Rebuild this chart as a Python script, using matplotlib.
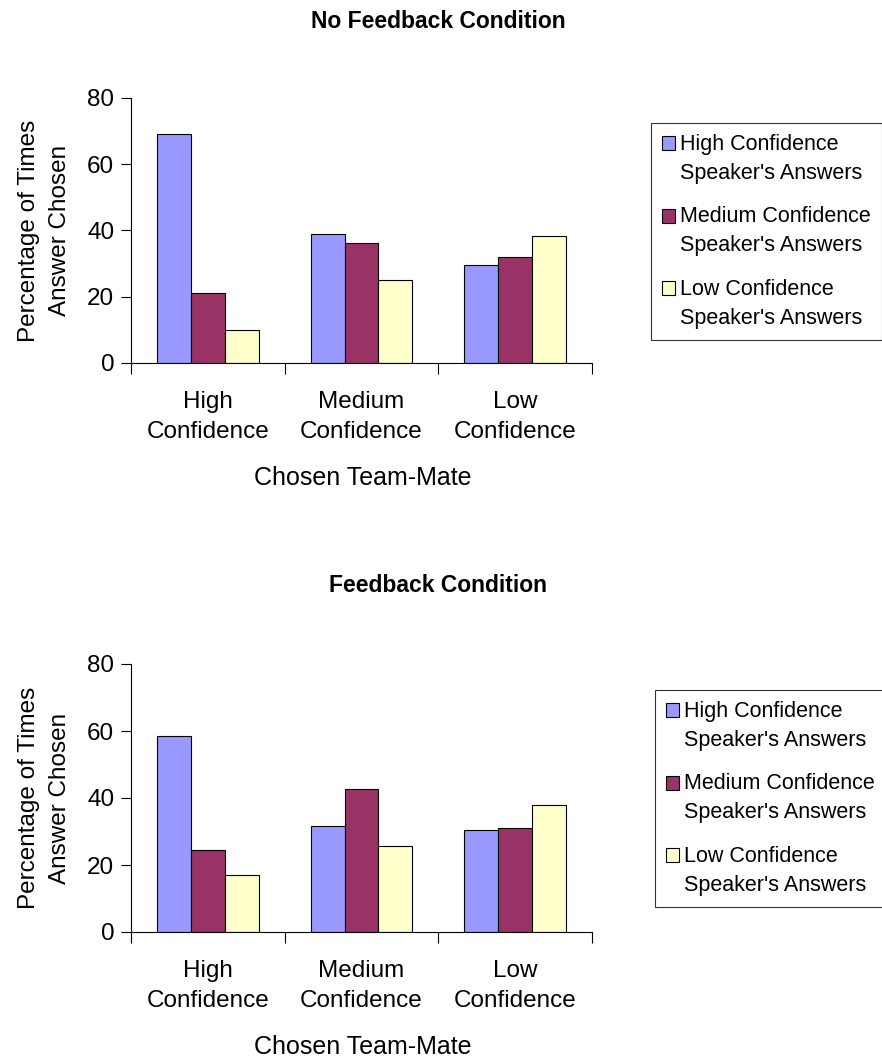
import matplotlib.pyplot as plt
from matplotlib.ticker import FixedLocator, NullFormatter
from matplotlib.legend_handler import HandlerPatch
from matplotlib.patches import Rectangle

plt.rcParams['font.family'] = ['Liberation Sans', 'DejaVu Sans']

categories = ["High\nConfidence", "Medium\nConfidence", "Low\nConfidence"]
series = ["High Confidence\nSpeaker's Answers",
          "Medium Confidence\nSpeaker's Answers",
          "Low Confidence\nSpeaker's Answers"]
colors = ["#9999FF", "#993366", "#FFFFCC"]

# values per chosen team-mate, one list per speaker series
no_feedback = [
    [69.0, 38.8, 29.5],
    [21.0, 36.3, 32.0],
    [10.0, 25.2, 38.2],
]
feedback = [
    [58.6, 31.7, 30.5],
    [24.4, 42.8, 31.0],
    [17.0, 25.6, 37.9],
]

H = 1059
fig = plt.figure(figsize=(8.82, 10.59), dpi=100)


# legend square next to the first line of a two-line label
def top_square(legend, orig_handle, xdescent, ydescent, width, height, fontsize):
    return Rectangle((-xdescent, -ydescent + 0.74 * fontsize), width, height)


def draw(ax, data, title, title_y, xlabel_top, legend_anchor):
    w = 0.22
    x = [1, 2, 3]
    handles = []
    for k, vals in enumerate(data):
        b = ax.bar([xi + (k - 1) * w for xi in x], vals, width=w,
                   color=colors[k], edgecolor='black', linewidth=0.8,
                   label=series[k])
        handles.append(b.patches[0])
    ax.set_xlim(0.5, 3.5)
    ax.set_ylim(0, 80)
    ax.set_yticks([0, 20, 40, 60, 80])
    ax.xaxis.set_major_locator(FixedLocator([0.5, 1.5, 2.5, 3.5]))
    ax.xaxis.set_major_formatter(NullFormatter())
    ax.xaxis.set_minor_locator(FixedLocator(x))
    ax.set_xticklabels(categories, minor=True, linespacing=1.5)
    ax.tick_params(axis='x', which='major', length=8, direction='out')
    ax.tick_params(axis='x', which='minor', length=0, pad=20, labelsize=17.5)
    ax.tick_params(axis='y', length=7, direction='out', labelsize=17.5, pad=5)
    for s in ['top', 'right']:
        ax.spines[s].set_visible(False)
    ax.set_ylabel("Percentage of Times\nAnswer Chosen", fontsize=17.5,
                  linespacing=1.55)
    ax.yaxis.set_label_coords(-0.13, 0.5)
    ax.set_xlabel("Chosen Team-Mate", fontsize=18)
    ax.xaxis.set_label_coords(363 / 882, 1 - xlabel_top / H,
                              transform=fig.transFigure)
    fig.text(438 / 882, 1 - title_y / H, title, ha='center', va='center',
             fontsize=16.5, fontweight='bold')
    leg = fig.legend(handles=handles, labels=series, loc='upper left',
                     bbox_to_anchor=legend_anchor, fontsize=15.5,
                     frameon=True, fancybox=False, edgecolor='black',
                     handlelength=0.62, handleheight=0.62, handletextpad=0.25,
                     labelspacing=1.05, borderpad=0.5, borderaxespad=0,
                     handler_map={Rectangle: HandlerPatch(patch_func=top_square)})
    leg.get_frame().set_linewidth(0.8)
    for t in leg.get_texts():
        t.set_linespacing(1.5)


ax1 = fig.add_axes([131 / 882, 1 - 363 / H, 461 / 882, 265 / H])
draw(ax1, no_feedback, "No Feedback Condition", 22, 466,
     (651 / 882, 1 - 123 / H))

ax2 = fig.add_axes([131 / 882, 1 - 932 / H, 461 / 882, 268 / H])
draw(ax2, feedback, "Feedback Condition", 586, 1035,
     (655 / 882, 1 - 690 / H))

fig.savefig("out.png", dpi=100)
